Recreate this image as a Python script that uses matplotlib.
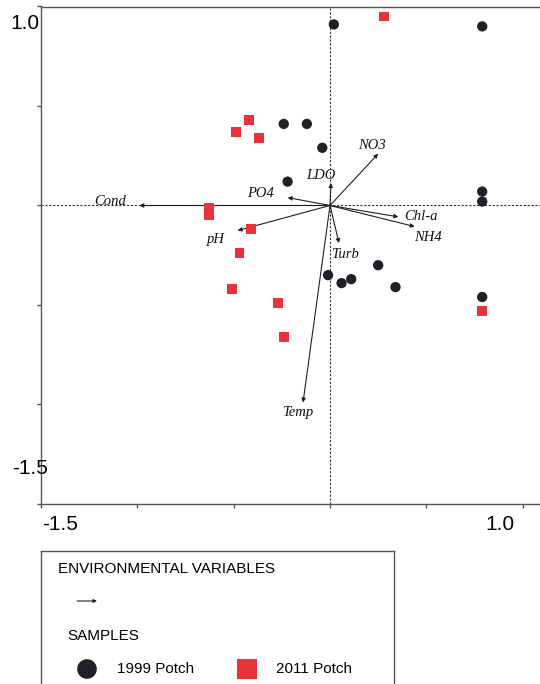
import matplotlib
matplotlib.use('Agg')
import matplotlib.pyplot as plt
from matplotlib.patches import Rectangle

# sample scores
potch_1999_x = [0.02, 0.79, -0.24, -0.12, -0.04, -0.22, 0.79, 0.79,
                -0.01, 0.06, 0.11, 0.25, 0.34, 0.79]
potch_1999_y = [0.91, 0.90, 0.41, 0.41, 0.29, 0.12, 0.07, 0.02,
                -0.35, -0.39, -0.37, -0.30, -0.41, -0.46]

potch_2011_x = [0.28, -0.42, -0.49, -0.37, -0.63, -0.63, -0.41, -0.47,
                -0.51, -0.27, -0.24, 0.79]
potch_2011_y = [0.95, 0.43, 0.37, 0.34, -0.01, -0.05, -0.12, -0.24,
                -0.42, -0.49, -0.66, -0.53]

# environmental variable arrows (tips)
env_names = ['Cond', 'PO4', 'LDO', 'NO3', 'Chl-a', 'NH4', 'pH', 'Turb', 'Temp']
env_x = [-0.99, -0.22, 0.005, 0.25, 0.355, 0.44, -0.48, 0.047, -0.14]
env_y = [0.0, 0.04, 0.113, 0.26, -0.057, -0.106, -0.126, -0.189, -0.99]
# label positions (centre of text)
label_x = [-1.14, -0.36, -0.05, 0.22, 0.47, 0.51, -0.59, 0.08, -0.17]
label_y = [0.02, 0.06, 0.15, 0.30, -0.055, -0.16, -0.17, -0.245, -1.04]

DARK = '#202028'
RED = '#e8333a'
FRAME = '#555555'

W, H = 540, 684
fig = plt.figure(figsize=(W / 100, H / 100), dpi=100)

ax = fig.add_axes([41 / W, 1 - 504 / H, 1 - 41 / W, (504 - 6.5) / H])
ax.set_xlim(-1.5, 1.09)
ax.set_ylim(-1.5, 1.0)

for side in ['left', 'bottom', 'top']:
    ax.spines[side].set_color(FRAME)
    ax.spines[side].set_linewidth(1.0)
ax.spines['right'].set_visible(False)

ax.set_xticks([-1.5, -1.0, -0.5, 0.0, 0.5, 1.0])
ax.set_yticks([-1.5, -1.0, -0.5, 0.0, 0.5, 1.0])
ax.set_xticklabels([])
ax.set_yticklabels([])
ax.tick_params(length=3, width=1, color=FRAME, direction='out')

tick_font = dict(family='Liberation Sans', fontsize=15, color='black')
ax.annotate('-1.5', xy=(-1.5, 0), xycoords=('data', 'axes fraction'),
            xytext=(1, -11), textcoords='offset pixels', ha='left', va='top', **tick_font)
ax.annotate('1.0', xy=(1.0, 0), xycoords=('data', 'axes fraction'),
            xytext=(-8, -11), textcoords='offset pixels', ha='right', va='top', **tick_font)
ax.annotate('1.0', xy=(0, 1.0), xycoords=('axes fraction', 'data'),
            xytext=(-1, -8), textcoords='offset pixels', ha='right', va='top', **tick_font)
ax.annotate('-1.5', xy=(0, -1.5), xycoords=('axes fraction', 'data'),
            xytext=(7, 26), textcoords='offset pixels', ha='right', va='bottom', **tick_font)

ax.axhline(0, color='#333333', lw=0.8, ls=(0, (2, 1.5)), zorder=1)
ax.axvline(0, color='#333333', lw=0.8, ls=(0, (2, 1.5)), zorder=1)

for name, x, y, lx, ly in zip(env_names, env_x, env_y, label_x, label_y):
    ax.annotate('', xy=(x, y), xytext=(0, 0),
                arrowprops=dict(arrowstyle='-|>', lw=0.8, color=DARK,
                                mutation_scale=6, shrinkA=0, shrinkB=0), zorder=3)
    ax.text(lx, ly, name, ha='center', va='center', family='Liberation Serif',
            style='italic', fontsize=10.5, color='#111111', zorder=4)

ax.scatter(potch_1999_x, potch_1999_y, s=55, marker='o', color=DARK,
           edgecolors='none', zorder=5)
ax.scatter(potch_2011_x, potch_2011_y, s=50, marker='s', color=RED,
           edgecolors='none', zorder=5)

# legend box drawn by hand, in pixel units (y downward)
lax = fig.add_axes([41 / W, 1 - 700 / H, (394 - 41) / W, (700 - 551) / H])
lax.set_xlim(0, 353)
lax.set_ylim(149, 0)
lax.set_xticks([])
lax.set_yticks([])
for sp in lax.spines.values():
    sp.set_color(FRAME)
    sp.set_linewidth(1.0)
lax.patch.set_alpha(0)

leg_font = dict(family='Liberation Sans', fontsize=11, color='black', va='center')
lax.text(17, 18, 'ENVIRONMENTAL VARIABLES', **leg_font)
lax.annotate('', xy=(56, 50), xytext=(36, 50),
             arrowprops=dict(arrowstyle='-|>', lw=0.8, color=DARK,
                             mutation_scale=5, shrinkA=0, shrinkB=0))
lax.text(26, 85, 'SAMPLES', **leg_font)
lax.scatter([46], [118], s=200, marker='o', color=DARK, edgecolors='none', clip_on=False)
lax.text(76, 118, '1999 Potch', **leg_font)
lax.scatter([206], [118], s=190, marker='s', color=RED, edgecolors='none', clip_on=False)
lax.text(235, 118, '2011 Potch', **leg_font)

fig.savefig('out.png', dpi=100)
